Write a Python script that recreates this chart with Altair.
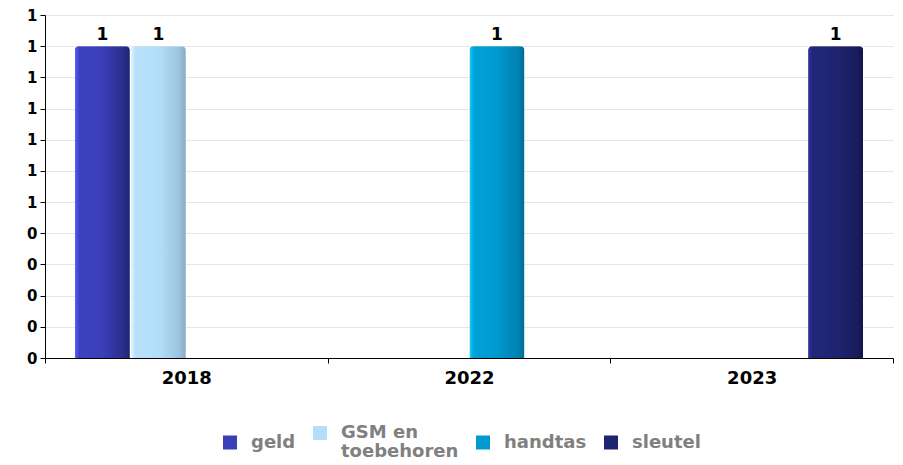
import altair as alt
import pandas as pd

years = ["2018", "2022", "2023"]
series = ["geld", "GSM en toebehoren", "handtas", "sleutel"]
geld = [1, 0, 0]
gsm = [1, 0, 0]
handtas = [0, 1, 0]
sleutel = [0, 0, 1]
colors = ["#3a3fb8", "#b3defa", "#0099d0", "#1f2470"]
y_ticks = [0, 0.1, 0.2, 0.3, 0.4, 0.5, 0.6, 0.7, 0.8, 0.9, 1.0, 1.1]

grad_stops = {
    "geld": ["#5860ff", "#3c41c2", "#3a3fb8", "#2a2e8a", "#20236c"],
    "GSM en toebehoren": ["#e4f8ff", "#b8e2fb", "#b3defa", "#9cc4dc", "#86a9bf"],
    "handtas": ["#10d0f8", "#00a2d8", "#0099d0", "#0082b2", "#006c94"],
    "sleutel": ["#2c32a0", "#21267a", "#1f2470", "#191d5c", "#12154a"],
}

rows = []
for s, vals in zip(series, [geld, gsm, handtas, sleutel]):
    for yr, v in zip(years, vals):
        rows.append({"year": yr, "series": s, "value": v})
df = pd.DataFrame(rows)
df = df[df["value"] > 0]

FONT = "DejaVu Sans"

x_enc = alt.X("year:N", sort=years, title=None,
              scale=alt.Scale(domain=years, paddingInner=0, paddingOuter=0),
              axis=alt.Axis(labelFont=FONT, labelFontSize=18, labelFontWeight="bold",
                            labelColor="#000000", labelAngle=0, labelPadding=6,
                            domainColor="#000000", tickColor="#000000", tickSize=5,
                            tickBand="extent", grid=False))
xo_enc = alt.XOffset("series:N", sort=series,
                     scale=alt.Scale(domain=series, paddingInner=0.018, paddingOuter=0.533))
y_enc = alt.Y("value:Q", title=None,
              scale=alt.Scale(domain=[0, 1.1], nice=False, zero=True),
              axis=alt.Axis(values=y_ticks, labelExpr="toString(round(datum.value))",
                            labelFont=FONT, labelFontSize=15,
                            labelFontWeight="bold", labelColor="#000000", labelPadding=3,
                            labelOverlap=False, tickCount=12, tickMinStep=0.1,
                            domainColor="#000000", tickColor="#000000", tickSize=5,
                            gridColor="#e6e6e6", grid=True))

base = alt.Chart(df)

bars = base.mark_bar(cornerRadiusTopLeft=4, cornerRadiusTopRight=4).encode(
    x=x_enc, xOffset=xo_enc, y=y_enc,
    color=alt.Color("series:N", sort=series,
                    scale=alt.Scale(domain=series, range=colors),
                    legend=alt.Legend(
                        title=None, orient="none", direction="horizontal",
                        legendX=176, legendY=409, columns=4,
                        symbolType="square", symbolSize=196, symbolStrokeWidth=0,
                        labelFont=FONT, labelFontSize=18, labelFontWeight="bold",
                        labelColor="#808080", labelOffset=12, columnPadding=15,
                        labelLimit=300, padding=0,
                        labelExpr="datum.label == 'GSM en toebehoren' ? ['GSM en', 'toebehoren'] : datum.label")),
)

layers = [bars]
for s in series:
    st = grad_stops[s]
    grad = alt.LinearGradient(
        gradient="linear", x1=0, y1=0, x2=1, y2=0,
        stops=[alt.GradientStop(offset=0, color=st[0]),
               alt.GradientStop(offset=0.08, color=st[1]),
               alt.GradientStop(offset=0.5, color=st[2]),
               alt.GradientStop(offset=0.88, color=st[3]),
               alt.GradientStop(offset=1, color=st[4])])
    layers.append(
        base.transform_filter(alt.datum.series == s)
        .mark_bar(fill=grad, cornerRadiusTopLeft=4, cornerRadiusTopRight=4)
        .encode(x=alt.X("year:N", sort=years), xOffset=alt.XOffset("series:N", sort=series),
                y=alt.Y("value:Q"))
    )

labels = base.mark_text(font=FONT, fontSize=17, fontWeight="bold", color="#000000",
                        baseline="bottom", dy=-2).encode(
    x=alt.X("year:N", sort=years), xOffset=alt.XOffset("series:N", sort=series),
    y=alt.Y("value:Q"), text=alt.Text("value:Q", format=".0f"))
layers.append(labels)

chart = alt.layer(*layers).properties(
    width=848, height=343,
    autosize=alt.AutoSizeParams(type="none"),
    padding={"left": 37, "top": 7, "right": 2, "bottom": 99},
).configure(
    background="#ffffff",
    view=alt.ViewConfig(stroke=None),
    style={"guide-label": {"lineHeight": 19}},
)

chart.save("out.html", embed_options={"renderer": "svg", "actions": False})
